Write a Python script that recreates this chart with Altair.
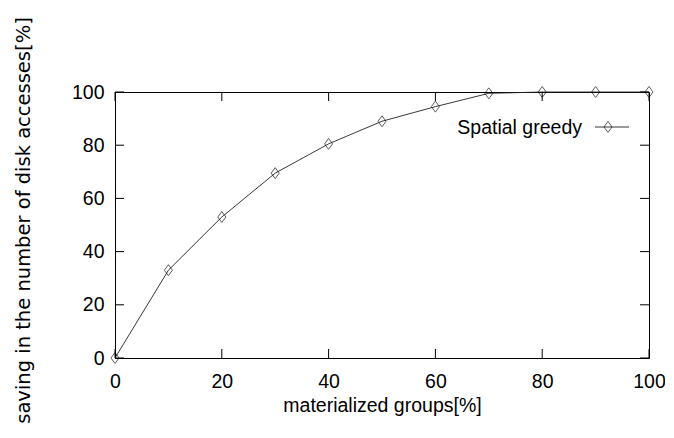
import altair as alt
import pandas as pd

groups = [0, 10, 20, 30, 40, 50, 60, 70, 80, 90, 100]
saving = [0, 33, 53, 69.5, 80.5, 89, 94.5, 99.5, 100, 100, 100]
tick_vals = [0, 20, 40, 60, 80, 100]
series_name = "Spatial greedy"

W, H = 534, 266
FONT = "Liberation Sans, Arial, sans-serif"
FS = 19.5
DIAMOND = "M0,-1L0.73,0L0,1L-0.73,0Z"

df = pd.DataFrame({"x": groups, "y": saving})
ticks = pd.DataFrame({"x": tick_vals, "y": tick_vals})

xs = alt.Scale(domain=[0, 100], nice=False)
ys = alt.Scale(domain=[0, 100], nice=False)

x_axis = alt.Axis(values=tick_vals, ticks=False, domain=False, grid=False,
                  labelFont=FONT, labelFontSize=FS, labelColor="black",
                  labelPadding=14, labelFlush=False, title="materialized groups[%]",
                  titleFont=FONT, titleFontSize=FS, titleFontWeight="normal",
                  titleColor="black", titleY=38, titleBaseline="top")
y_axis = alt.Axis(values=tick_vals, ticks=False, domain=False, grid=False,
                  labelFont=FONT, labelFontSize=FS, labelColor="black",
                  labelPadding=11, labelFlush=False,
                  title="saving in the number of disk accesses[%]",
                  titleFont="DejaVu Sans", titleFontSize=19.5, titleFontWeight="normal",
                  titleColor="black", titleX=-82, titleY=128, titleBaseline="bottom")

line = alt.Chart(df).mark_line(color="#222222", strokeWidth=0.9).encode(
    x=alt.X("x:Q", scale=xs, axis=x_axis),
    y=alt.Y("y:Q", scale=ys, axis=y_axis),
)
pts = alt.Chart(df).mark_point(shape=DIAMOND, size=121, filled=False,
                               color="black", strokeWidth=0.9).encode(
    x=alt.X("x:Q", scale=xs), y=alt.Y("y:Q", scale=ys))

TL = 9
bt = alt.Chart(ticks).mark_rule(color="black", strokeWidth=1).encode(
    x=alt.X("x:Q", scale=xs), y=alt.value(H), y2=alt.value(H - TL))
tt = alt.Chart(ticks).mark_rule(color="black", strokeWidth=1).encode(
    x=alt.X("x:Q", scale=xs), y=alt.value(0), y2=alt.value(TL))
lt = alt.Chart(ticks).mark_rule(color="black", strokeWidth=1).encode(
    y=alt.Y("y:Q", scale=ys), x=alt.value(0), x2=alt.value(TL))
rt = alt.Chart(ticks).mark_rule(color="black", strokeWidth=1).encode(
    y=alt.Y("y:Q", scale=ys), x=alt.value(W), x2=alt.value(W - TL))

leg = pd.DataFrame({"name": [series_name]})
leg_text = alt.Chart(leg).mark_text(font=FONT, fontSize=FS, align="right",
                                    baseline="alphabetic", color="black").encode(
    text="name:N", x=alt.value(467), y=alt.value(42))
leg_line = alt.Chart(leg).mark_rule(color="#222222", strokeWidth=0.9).encode(
    x=alt.value(480), x2=alt.value(514), y=alt.value(35))
leg_pt = alt.Chart(leg).mark_point(shape=DIAMOND, size=121, filled=False,
                                   color="black", strokeWidth=0.9).encode(
    x=alt.value(493), y=alt.value(35))

chart = alt.layer(line, pts, bt, tt, lt, rt, leg_text, leg_line, leg_pt).properties(
    width=W, height=H,
    background="white",
    autosize=alt.AutoSizeParams(type="none"),
    padding={"left": 107, "top": 84, "right": 16, "bottom": 72},
).configure_view(stroke="black", strokeWidth=1)

chart.save("out.html", embed_options={"renderer": "svg", "actions": False})
